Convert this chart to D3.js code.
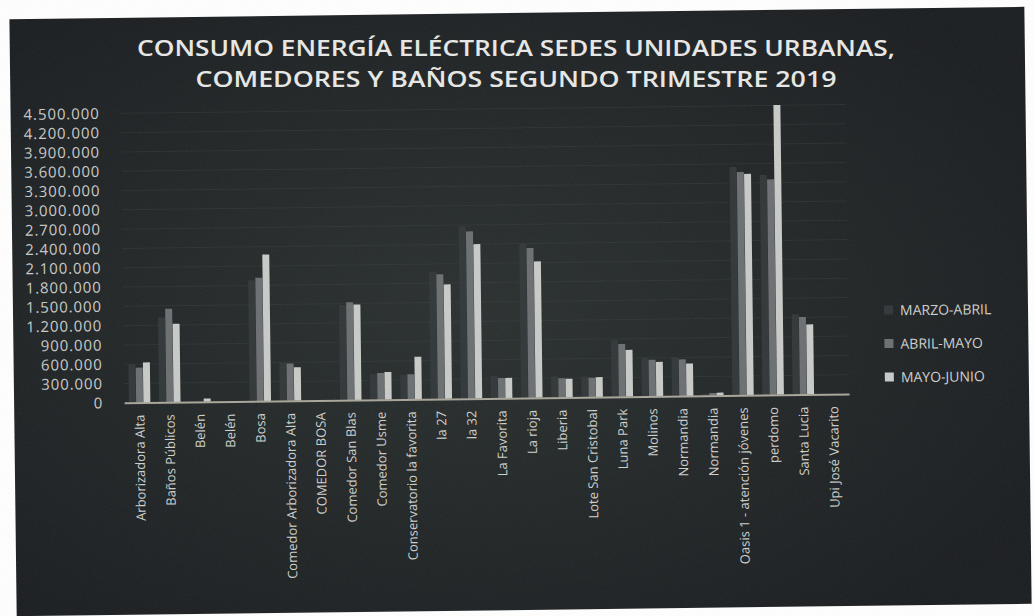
<!DOCTYPE html>
<html>
<head>
<meta charset="utf-8">
<script src="https://cdn.jsdelivr.net/npm/d3@7"></script>
<style>
    html, body { margin: 0; padding: 0; background: #ffffff; }
    svg { display: block; }
</style>
</head>
<body>
<div id="chart"></div>
<script>
const categories = [
    'Arborizadora Alta', 'Baños Públicos', 'Belén', 'Belén', 'Bosa',
    'Comedor Arborizadora Alta', 'COMEDOR BOSA', 'Comedor San Blas', 'Comedor Usme',
    'Conservatorio la favorita', 'la 27', 'la 32', 'La Favorita', 'La rioja', 'Liberia',
    'Lote San Cristobal', 'Luna Park', 'Molinos', 'Normandia', 'Normandia',
    'Oasis 1 - atención jóvenes', 'perdomo', 'Santa Lucia', 'Upi José Vacarito',
];
const seriesNames = ['MARZO-ABRIL', 'ABRIL-MAYO', 'MAYO-JUNIO'];
const marzoAbril = [600000, 1320000, 0, 0, 1880000, 600000, 0, 1480000, 400000, 380000, 1980000, 2680000, 350000, 2400000, 330000, 320000, 880000, 600000, 600000, 30000, 3550000, 3420000, 1250000, 0];
const abrilMayo = [545000, 1455000, 0, 0, 1920000, 580000, 0, 1520000, 415000, 390000, 1940000, 2600000, 315000, 2330000, 300000, 300000, 820000, 570000, 570000, 40000, 3470000, 3350000, 1205000, 0];
const mayoJunio = [625000, 1220000, 52000, 0, 2280000, 520000, 0, 1485000, 430000, 660000, 1780000, 2400000, 315000, 2120000, 290000, 310000, 727000, 535000, 505000, 45000, 3440000, 4505000, 1090000, 0];
const yTicks = d3.range(0, 4500001, 300000);

const width = 1034;
const height = 616;
const colors = ['#363b3e', '#6e7274', '#c8cac8'];

const svg = d3.select('#chart').append('svg')
    .attr('width', width)
    .attr('height', height);

const defs = svg.append('defs');
const grad = defs.append('radialGradient').attr('id', 'bg').attr('cx', '45%').attr('cy', '50%').attr('r', '65%');
grad.append('stop').attr('offset', '0%').attr('stop-color', '#2a302f');
grad.append('stop').attr('offset', '100%').attr('stop-color', '#1a1d20');

const noise = defs.append('filter').attr('id', 'grain');
noise.append('feTurbulence').attr('type', 'fractalNoise').attr('baseFrequency', 0.9).attr('numOctaves', 2).attr('seed', 4);
noise.append('feColorMatrix').attr('type', 'saturate').attr('values', 0.6);

// whole photo is slightly tilted
const g = svg.append('g').attr('transform', 'rotate(-0.7, 520, 310)');

g.append('rect')
    .attr('x', 13).attr('y', 13)
    .attr('width', 1015).attr('height', 597)
    .attr('fill', 'url(#bg)');
g.append('rect')
    .attr('x', 13).attr('y', 13)
    .attr('width', 1015).attr('height', 597)
    .attr('filter', 'url(#grain)')
    .attr('opacity', 0.07);

const x0 = d3.scaleBand()
    .domain(d3.range(categories.length))
    .range([123, 848])
    .paddingInner(0.27)
    .paddingOuter(0.15);
const x1 = d3.scaleBand()
    .domain(seriesNames)
    .range([0, x0.bandwidth()])
    .padding(0.04);
const y = d3.scaleLinear()
    .domain([0, 4500000])
    .range([398, 108.5]);

// faint gridlines
g.append('g')
    .selectAll('line')
    .data(yTicks.slice(1))
    .enter()
    .append('line')
    .attr('x1', 123).attr('x2', 848)
    .attr('y1', (d) => y(d)).attr('y2', (d) => y(d))
    .attr('stroke', '#4a5150')
    .attr('stroke-opacity', 0.3)
    .attr('stroke-width', 1);

// y axis labels
const fmt = (d) => d3.format(',')(d).replace(/,/g, '.');
const yAxis = g.append('g')
    .attr('transform', 'translate(102, 0)')
    .call(d3.axisLeft(y).tickValues(yTicks).tickSize(0).tickPadding(0).tickFormat(fmt));
yAxis.select('.domain').remove();
yAxis.selectAll('.tick text')
    .attr('fill', '#c9cac8')
    .attr('font-family', '"Open Sans", sans-serif')
    .attr('font-size', '15px')
    .attr('letter-spacing', '0.9px');

// bars
const rows = categories.map((c, i) => ({
    i,
    values: [marzoAbril[i], abrilMayo[i], mayoJunio[i]],
}));
g.append('g')
    .selectAll('g')
    .data(rows)
    .enter()
    .append('g')
    .attr('transform', (d) => `translate(${x0(d.i)}, 0)`)
    .selectAll('rect')
    .data((d) => d.values.map((v, k) => ({ v, k })))
    .enter()
    .append('rect')
    .attr('x', (d) => x1(seriesNames[d.k]))
    .attr('y', (d) => y(d.v))
    .attr('width', x1.bandwidth())
    .attr('height', (d) => y(0) - y(d.v))
    .attr('fill', (d) => colors[d.k]);

// x axis
const xAxis = g.append('g')
    .attr('transform', `translate(0, ${y(0)})`)
    .call(d3.axisBottom(x0).tickSize(0).tickPadding(10).tickFormat((i) => categories[i]));
xAxis.select('.domain')
    .attr('stroke', '#a9a69b')
    .attr('stroke-width', 2);
xAxis.selectAll('.tick text')
    .attr('transform', 'rotate(-90)')
    .attr('text-anchor', 'end')
    .attr('x', -12)
    .attr('y', 0)
    .attr('dy', '0.35em')
    .attr('fill', '#cfd0cc')
    .attr('font-family', '"Open Sans", sans-serif')
    .attr('font-size', '13px');

// legend
const legend = g.append('g')
    .selectAll('g')
    .data(seriesNames)
    .enter()
    .append('g')
    .attr('transform', (d, i) => `translate(884, ${315 + i * 33.5})`);
legend.append('rect')
    .attr('x', 0).attr('y', -5)
    .attr('width', 9).attr('height', 9)
    .attr('fill', (d, i) => colors[i]);
legend.append('text')
    .attr('x', 16)
    .attr('dy', '0.35em')
    .attr('fill', '#cfd0cc')
    .attr('font-family', '"Open Sans", sans-serif')
    .attr('font-size', '14px')
    .text((d) => d);

// title kept straight so the two lines don't collide
const title = [
    'CONSUMO ENERGÍA ELÉCTRICA SEDES UNIDADES URBANAS,',
    'COMEDORES Y BAÑOS SEGUNDO TRIMESTRE 2019',
];
const titleLen = [758, 641];
svg.append('g')
    .selectAll('text')
    .data(title)
    .enter()
    .append('text')
    .attr('x', 516)
    .attr('y', (d, i) => 56 + i * 31)
    .attr('text-anchor', 'middle')
    .attr('textLength', (d, i) => titleLen[i])
    .attr('lengthAdjust', 'spacingAndGlyphs')
    .attr('fill', '#e6e7e4')
    .attr('font-family', '"Open Sans", sans-serif')
    .attr('font-weight', 600)
    .attr('font-size', '21px')
    .text((d) => d);
</script>
</body>
</html>
